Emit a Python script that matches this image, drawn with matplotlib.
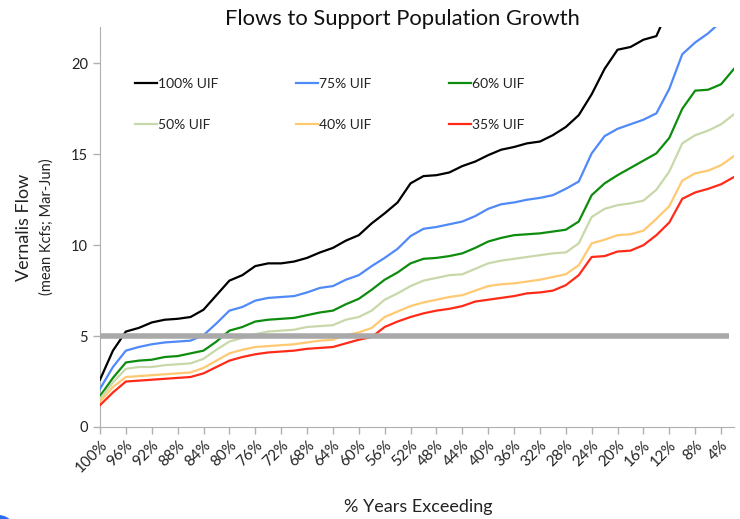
import matplotlib
matplotlib.use('Agg')
import matplotlib.pyplot as plt
from matplotlib.patches import Circle

plt.rcParams['font.family'] = ['Lato', 'DejaVu Sans']

# % of years exceeding, 100% down to 2%
pct = list(range(100, 0, -2))
tick_pct = list(range(100, 0, -4))
tick_labels = ['%d%%' % p for p in tick_pct]

uif_100 = [2.6, 4.2, 5.25, 5.45, 5.75, 5.9, 5.95, 6.05, 6.45, 7.25,
           8.05, 8.35, 8.85, 9.0, 9.0, 9.1, 9.3, 9.6, 9.85, 10.25,
           10.55, 11.2, 11.75, 12.35, 13.4, 13.8, 13.85, 14.0, 14.35, 14.6,
           14.95, 15.25, 15.4, 15.6, 15.7, 16.05, 16.5, 17.15, 18.3, 19.7,
           20.75, 20.9, 21.3, 21.5, 23.1, 24.0, 24.6, 25.0, 25.5, 26.2]
uif_75 = [2.1, 3.3, 4.2, 4.4, 4.55, 4.65, 4.7, 4.75, 5.05, 5.7,
          6.4, 6.6, 6.95, 7.1, 7.15, 7.2, 7.4, 7.65, 7.75, 8.1,
          8.35, 8.85, 9.3, 9.8, 10.5, 10.9, 11.0, 11.15, 11.3, 11.6,
          12.0, 12.25, 12.35, 12.5, 12.6, 12.75, 13.1, 13.5, 15.05, 16.0,
          16.4, 16.65, 16.9, 17.25, 18.6, 20.5, 21.15, 21.65, 22.3, 23.0]
uif_60 = [1.7, 2.7, 3.55, 3.65, 3.7, 3.85, 3.9, 4.05, 4.2, 4.7,
          5.3, 5.5, 5.8, 5.9, 5.95, 6.0, 6.15, 6.3, 6.4, 6.75,
          7.05, 7.55, 8.1, 8.5, 9.0, 9.25, 9.3, 9.4, 9.55, 9.85,
          10.2, 10.4, 10.55, 10.6, 10.65, 10.75, 10.85, 11.3, 12.75, 13.4,
          13.85, 14.25, 14.65, 15.05, 15.9, 17.5, 18.5, 18.55, 18.85, 19.7]
uif_50 = [1.55, 2.45, 3.2, 3.3, 3.3, 3.4, 3.45, 3.5, 3.75, 4.25,
          4.7, 4.9, 5.1, 5.25, 5.3, 5.35, 5.5, 5.55, 5.6, 5.9,
          6.05, 6.4, 7.0, 7.35, 7.75, 8.05, 8.2, 8.35, 8.4, 8.7,
          9.0, 9.15, 9.25, 9.35, 9.45, 9.55, 9.6, 10.1, 11.55, 12.0,
          12.2, 12.3, 12.45, 13.05, 14.05, 15.6, 16.05, 16.3, 16.65, 17.2]
uif_40 = [1.4, 2.2, 2.75, 2.8, 2.85, 2.9, 2.95, 3.0, 3.25, 3.65,
          4.05, 4.25, 4.4, 4.45, 4.5, 4.55, 4.65, 4.75, 4.8, 5.05,
          5.2, 5.45, 6.05, 6.35, 6.65, 6.85, 7.0, 7.15, 7.25, 7.5,
          7.75, 7.85, 7.9, 8.0, 8.1, 8.25, 8.4, 8.9, 10.1, 10.3,
          10.55, 10.6, 10.8, 11.45, 12.15, 13.55, 13.95, 14.1, 14.4, 14.9]
uif_35 = [1.2, 1.9, 2.5, 2.55, 2.6, 2.65, 2.7, 2.75, 2.95, 3.3,
          3.65, 3.85, 4.0, 4.1, 4.15, 4.2, 4.3, 4.35, 4.4, 4.6,
          4.8, 4.95, 5.5, 5.8, 6.05, 6.25, 6.4, 6.5, 6.65, 6.9,
          7.0, 7.1, 7.2, 7.35, 7.4, 7.5, 7.8, 8.35, 9.35, 9.4,
          9.65, 9.7, 10.0, 10.55, 11.25, 12.55, 12.9, 13.1, 13.35, 13.75]

target = 5.0

fig = plt.figure(figsize=(7.4, 5.19), dpi=100)
ax = fig.add_axes([100/740, 1 - 427/519, 634/740, 400/519])

series = [
    (uif_100, '#000000', '100% UIF'),
    (uif_75, '#5089f8', '75% UIF'),
    (uif_60, '#0d8c0d', '60% UIF'),
    (uif_50, '#c8d8aa', '50% UIF'),
    (uif_40, '#ffc971', '40% UIF'),
    (uif_35, '#ff2a18', '35% UIF'),
]
handles = {}
for vals, col, lab in series:
    h, = ax.plot(pct, vals, color=col, lw=1.6, label=lab, zorder=3)
    handles[lab] = h

ax.plot([pct[0], pct[-1] + 0.8], [target, target], color='#a9a9a9', lw=4,
        solid_capstyle='butt', zorder=4)

ax.set_xlim(100, 2)
ax.set_ylim(0, 22)
ax.set_yticks([0, 5, 10, 15, 20])
ax.set_xticks(tick_pct)
ax.set_xticklabels(tick_labels, rotation=45, ha='right', rotation_mode='anchor')
ax.tick_params(axis='both', colors='#b0b0b0', length=5, width=1,
               labelcolor='#222222', labelsize=10.5)
ax.tick_params(axis='x', labelsize=11, pad=3)
for s in ['top', 'right']:
    ax.spines[s].set_visible(False)
for s in ['left', 'bottom']:
    ax.spines[s].set_color('#b0b0b0')

order = ['100% UIF', '50% UIF', '75% UIF', '40% UIF', '60% UIF', '35% UIF']
ax.legend([handles[k] for k in order], order, ncol=3, loc='upper left',
          bbox_to_anchor=(0.035, 0.905), frameon=False, fontsize=10,
          handlelength=1.6, handletextpad=0.05, columnspacing=5.6,
          labelspacing=2.15, labelcolor='#222222')

fig.text(402/740, 1 - 19/519, 'Flows to Support Population Growth',
         ha='center', va='center', fontsize=15.8, color='#111111')
fig.text(24/740, 1 - 227/519, 'Vernalis Flow', rotation=90,
         ha='center', va='center', fontsize=13, color='#222222')
fig.text(47/740, 1 - 227/519, '(mean Kcfs; Mar-Jun)', rotation=90,
         ha='center', va='center', fontsize=10.5, color='#222222')
fig.text(418/740, 1 - 507/519, '% Years Exceeding',
         ha='center', va='center', fontsize=13, color='#222222')

fig.patches.append(Circle((-2/740, -6/519), 0.018, transform=fig.transFigure,
                          color='#2a6ef0', zorder=0))

fig.savefig('out.png', dpi=100)
